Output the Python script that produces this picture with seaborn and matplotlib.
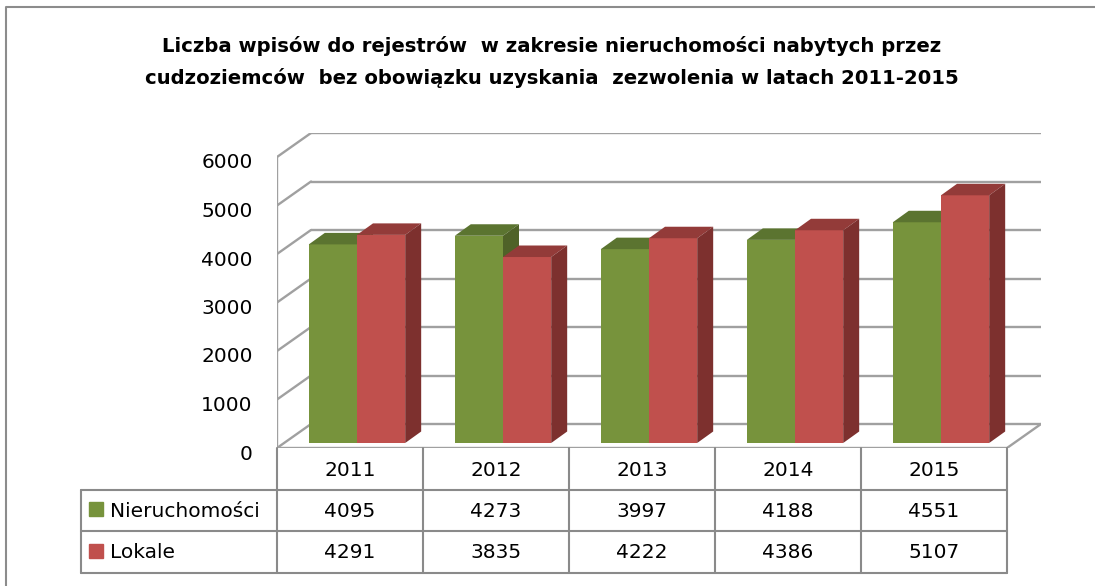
import pandas as pd
import matplotlib.pyplot as plt
import seaborn as sns
from matplotlib.patches import Polygon
from matplotlib.lines import Line2D
from matplotlib.transforms import ScaledTranslation

# data
years = ['2011', '2012', '2013', '2014', '2015']
nieruchomosci = [4095, 4273, 3997, 4188, 4551]
lokale = [4291, 3835, 4222, 4386, 5107]
series = ['Nieruchomości', 'Lokale']
title = ('Liczba wpisów do rejestrów  w zakresie nieruchomości nabytych przez\n'
         'cudzoziemców  bez obowiązku uzyskania  zezwolenia w latach 2011-2015')

df = pd.DataFrame({
    'rok': years * 2,
    'wartosc': nieruchomosci + lokale,
    'seria': [series[0]] * 5 + [series[1]] * 5,
})

front = {'Nieruchomości': '#77933C', 'Lokale': '#C0504D'}
top_col = {'Nieruchomości': '#5B7430', 'Lokale': '#933B39'}
side_col = {'Nieruchomości': '#4F6228', 'Lokale': '#7D302E'}

sns.set_style('white')
plt.rcParams['font.family'] = ['DejaVu Sans']
plt.rcParams['text.color'] = 'black'
plt.rcParams['ytick.labelcolor'] = 'black'

W, H = 1095, 586
fig = plt.figure(figsize=(W / 100, H / 100), dpi=100)

# pixel layout of the pseudo 3D box
x_front_l, x_front_r = 277, 1007
y_floor, y_top = 448, 133
depth_px = (34, 24)
ymax = 6000
px_per_cat = (x_front_r - x_front_l) / len(years)
px_per_val = (y_floor - 157) / ymax
ddx = depth_px[0] / px_per_cat
ddy = depth_px[1] / px_per_val

ax = fig.add_axes([x_front_l / W, 1 - y_floor / H,
                   (x_front_r + depth_px[0] - x_front_l) / W,
                   (y_floor - y_top) / H])

sns.barplot(data=df, x='rok', y='wartosc', hue='seria', palette=front,
            width=0.66, gap=0, dodge=True, legend=False, ax=ax,
            linewidth=0, saturation=1)

ax.set_xlim(-0.5, len(years) - 0.5 + ddx)
ax.set_ylim(0, ymax + ddy)

# gridlines on back wall and left wall
ticks = list(range(0, ymax + 1, 1000))
gcol = '#A0A0A0'
for v in ticks:
    ax.plot([-0.5 + ddx, len(years) - 0.5 + ddx], [v + ddy, v + ddy],
            color=gcol, lw=1.7, zorder=1, solid_capstyle='butt')
    ax.plot([-0.5, -0.5 + ddx], [v, v + ddy], color=gcol, lw=1.7, zorder=1)
ax.plot([-0.5, -0.5], [0, ymax], color=gcol, lw=1.7, zorder=1)
# floor
ax.plot([-0.5, len(years) - 0.5, len(years) - 0.5 + ddx],
        [0, 0, ddy], color=gcol, lw=1.7, zorder=1)

# turn flat bars into boxes
bdx = 7 / px_per_cat
bdy = 5 / px_per_val
sdx = 16 / px_per_cat
sdy = 11.5 / px_per_val
n = len(years)
for i, bar in enumerate(ax.patches[:2 * n]):
    s = series[i // n]
    z = 3 + i // n
    bar.set_x(bar.get_x() + bdx)
    bar.set_y(bdy)
    bar.set_zorder(z)
    x0 = bar.get_x()
    x1 = x0 + bar.get_width()
    y0 = bar.get_y()
    y1 = y0 + bar.get_height()
    ax.add_patch(Polygon([(x0, y1), (x0 + sdx, y1 + sdy), (x1 + sdx, y1 + sdy), (x1, y1)],
                         closed=True, color=top_col[s], lw=0, zorder=z))
    ax.add_patch(Polygon([(x1, y0), (x1 + sdx, y0 + sdy), (x1 + sdx, y1 + sdy), (x1, y1)],
                         closed=True, color=side_col[s], lw=0, zorder=z))

ax.set_yticks(ticks)
ax.set_yticklabels([str(t) for t in ticks], fontsize=14.5)
ax.tick_params(axis='y', length=0, pad=17.5)
for lab in ax.get_yticklabels():
    lab.set_transform(lab.get_transform() + ScaledTranslation(0, -4 / 100, fig.dpi_scale_trans))
ax.set_xticks([])
ax.set_xlabel('')
ax.set_ylabel('')
for sp in ax.spines.values():
    sp.set_visible(False)
ax.patch.set_alpha(0)

# data table below the chart
tab_l, tab_b = 81, 573
tab = fig.add_axes([tab_l / W, 1 - tab_b / H, (x_front_r - tab_l) / W, (tab_b - y_floor) / H])
x_left = -0.5 - (x_front_l - tab_l) / px_per_cat
tab.set_xlim(x_left, n - 0.5)
tab.set_ylim(3, 0)
tab.axis('off')
lcol = '#8A8A8A'
for k in range(n + 1):
    tab.plot([k - 0.5, k - 0.5], [0, 3], color=lcol, lw=1.5, clip_on=False)
for r in [1, 2, 3]:
    tab.plot([x_left, n - 0.5], [r, r], color=lcol, lw=1.5, clip_on=False)
tab.plot([x_left, x_left], [1, 3], color=lcol, lw=1.5, clip_on=False)

for k, yr in enumerate(years):
    tab.text(k, 0.55, yr, ha='center', va='center', fontsize=14.5)
for r, (s, vals) in enumerate(zip(series, [nieruchomosci, lokale])):
    yc = 1.52 + r
    tab.plot([x_left + 15 / px_per_cat], [yc - 0.05], marker='s', markersize=10,
             color=front[s], clip_on=False)
    tab.text(x_left + 29 / px_per_cat, yc, s, ha='left', va='center', fontsize=14.5)
    for k, v in enumerate(vals):
        tab.text(k, yc, str(v), ha='center', va='center', fontsize=14.5)

fig.text(552 / W, 1 - 62 / H, title, ha='center', va='center', fontsize=14.1,
         fontweight='bold', linespacing=1.7)

# outer chart frame (only top and left visible in the crop)
fig.add_artist(Line2D([6 / W, 6 / W, 1], [0, 1 - 7 / H, 1 - 7 / H],
                      color='#8C8C8C', lw=1.5))

fig.savefig('out.png', dpi=100)
